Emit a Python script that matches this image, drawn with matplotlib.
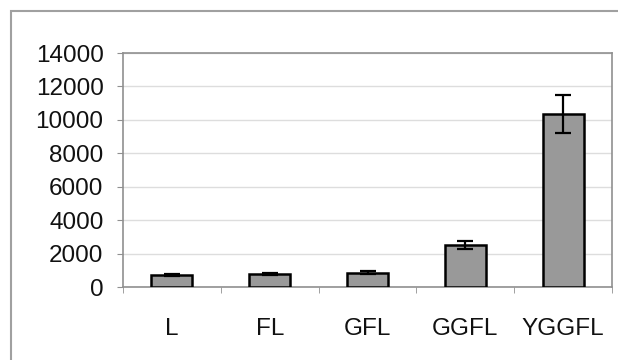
import matplotlib.pyplot as plt
from matplotlib.patches import Rectangle

# data
labels = ["L", "FL", "GFL", "GGFL", "YGGFL"]
values = [700, 780, 860, 2520, 10350]
errors = [50, 50, 100, 260, 1120]

plt.rcParams['font.family'] = ['Liberation Sans', 'DejaVu Sans']

fig = plt.figure(figsize=(6.18, 3.6), dpi=100)
# outer chart frame (runs off the right/bottom edge in the original)
fig.patches.append(Rectangle((11 / 618, -0.1), 1.2, 1 - 11 / 360 + 0.1,
                             transform=fig.transFigure, fill=False,
                             edgecolor='#a0a0a0', linewidth=1.5))

ax = fig.add_axes([123 / 618, 1 - 287 / 360, (612 - 123) / 618, (287 - 53) / 360])
x = list(range(len(labels)))
ax.bar(x, values, width=0.42, color='#999999', edgecolor='black', linewidth=1.8, zorder=3)
ax.errorbar(x, values, yerr=errors, fmt='none', ecolor='black', elinewidth=1.6,
            capsize=5.5, capthick=1.6, zorder=4)

ax.set_xlim(-0.5, 4.5)
ax.set_ylim(0, 14000)
ax.set_yticks(range(0, 14001, 2000))
ax.yaxis.grid(True, color='#dddddd', linewidth=1, zorder=0)

ax.set_xticks(x)
ax.set_xticklabels(labels)
ax.set_xticks([i - 0.5 for i in range(len(labels) + 1)], minor=True)
ax.tick_params(axis='x', which='major', length=0, pad=22, labelsize=17.5, labelcolor='#111111')
ax.tick_params(axis='x', which='minor', length=4, color='#909090', direction='out')
ax.tick_params(axis='y', length=4, color='#909090', pad=10, labelsize=17.5, labelcolor='#111111')

for s in ax.spines.values():
    s.set_color('#909090')
    s.set_linewidth(1.2)

fig.savefig('out.png', dpi=100)
